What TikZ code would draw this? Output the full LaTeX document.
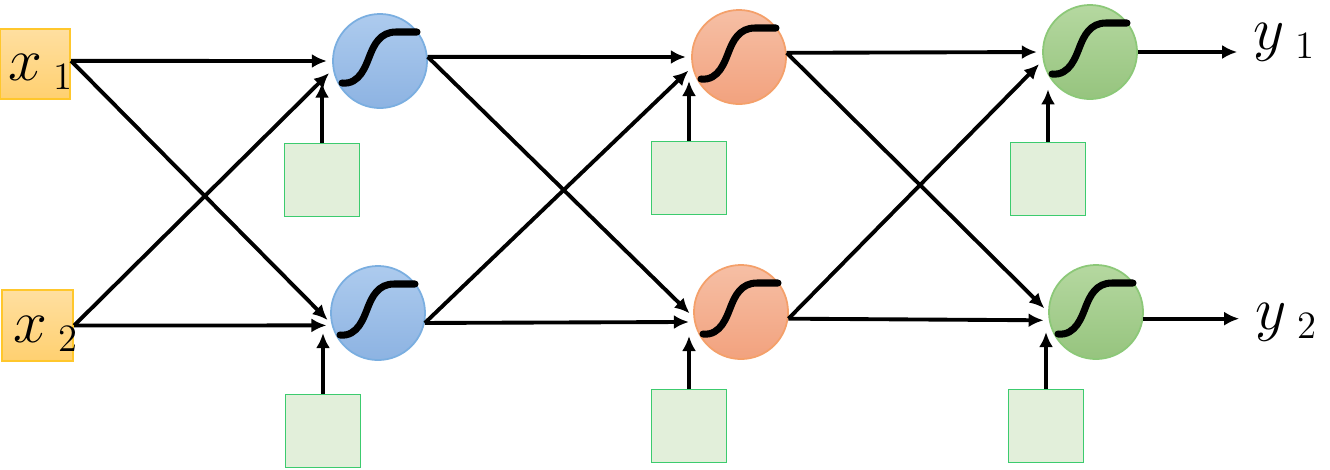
\documentclass[tikz,border=0pt]{standalone}
\usetikzlibrary{arrows.meta}
\definecolor{inedge}{HTML}{FFC72C}
\definecolor{intop}{HTML}{FFDFA0}
\definecolor{inbot}{HTML}{FFD070}
\definecolor{blueedge}{HTML}{7AAEE0}
\definecolor{bluetop}{HTML}{ADCBEE}
\definecolor{bluebot}{HTML}{8DB3E2}
\definecolor{orangeedge}{HTML}{F4A06A}
\definecolor{orangetop}{HTML}{F6BFA5}
\definecolor{orangebot}{HTML}{F2A27E}
\definecolor{greenedge}{HTML}{8CC878}
\definecolor{greentop}{HTML}{B5D8A0}
\definecolor{greenbot}{HTML}{96C47E}
\definecolor{biasedge}{HTML}{3CCB6E}
\definecolor{biasfill}{HTML}{E2EFDA}
\newcommand\lab[2]{$#1$\hspace{3pt}\raisebox{-2.6pt}{\fontsize{11}{13}\selectfont #2}}
\begin{document}
\begin{tikzpicture}[x=0.01cm,y=-0.01cm,
    inbox/.style={draw=inedge,line width=0.6pt,top color=intop,bottom color=inbot,minimum size=0.7cm,inner sep=0pt},
    neuron/.style={circle,draw=#1edge,top color=#1top,bottom color=#1bot,line width=0.5pt,minimum size=0.94cm,inner sep=0pt},
    bias/.style={draw=biasedge,fill=biasfill,line width=0.5pt,minimum width=0.75cm,minimum height=0.73cm,inner sep=0pt},
    txt/.style={anchor=base west,inner sep=0pt,font=\fontsize{16}{19}\selectfont},
    arr/.style={line width=1.1pt,-{Latex[length=1.5mm,width=1.4mm]},shorten >=1.5pt},
    sigm/.pic={\draw[line width=2pt,line cap=round] (-38,22) .. controls (-20,24) and (-14,4) .. (-10,-6) .. controls (-6,-16) and (0,-29) .. (16,-29) -- (37,-29);}]
    \useasboundingbox (0,0) rectangle (1330,469);
    % inputs
    \node[inbox] (x1) at (35,64) {};
    \node[inbox,minimum size=0.71cm] (x2) at (37.5,325.5) {};
    \node[txt] (t1) at (8,80) {\lab{x}{1}};
    \node[txt] (t2) at (13,342) {\lab{x}{2}};
    % neurons
    \node[neuron=blue] (h11) at (380,61) {};
    \node[neuron=blue] (h12) at (378,313) {};
    \node[neuron=orange] (h21) at (739,57) {};
    \node[neuron=orange] (h22) at (741,312) {};
    \node[neuron=green] (o1) at (1090,52) {};
    \node[neuron=green] (o2) at (1096,312) {};
    \pic at (h11) {sigm};
    \pic at (h12) {sigm};
    \pic at (h21) {sigm};
    \pic at (h22) {sigm};
    \pic at (o1) {sigm};
    \pic at (o2) {sigm};
    % biases
    \node[bias] (b11) at (322,180) {};
    \node[bias] (b12) at (323,431) {};
    \node[bias] (b21) at (689,178) {};
    \node[bias] (b22) at (689,426) {};
    \node[bias] (b31) at (1048,179) {};
    \node[bias] (b32) at (1046,426) {};
    % outputs
    \node[txt] (y1) at (1253,49) {\lab{y}{1}};
    \node[txt] (y2) at (1255,329) {\lab{y}{2}};
    % first layer
    \draw[arr] (x1.5) -- (h11.west);
    \draw[arr] (x1.5) -- (h12.193);
    \draw[arr] (x2.east) -- (h11.190);
    \draw[arr] (x2.east) -- (h12.195);
    \draw[arr] (b11.north) -- (b11.north |- h11.200);
    \draw[arr] (b12.north) -- (b12.north |- h12.198);
    % second layer
    \draw[arr] (h11.5) -- (h21.west);
    \draw[arr] (h11.5) -- (h22.186);
    \draw[arr] (h12.-12) -- (h21.192);
    \draw[arr] (h12.-12) -- (h22.192);
    \draw[arr] (b21.north) -- (b21.north |- h21.203);
    \draw[arr] (b22.north) -- (b22.north |- h22.203);
    % third layer
    \draw[arr] (h21.5) -- (o1.west);
    \draw[arr] (h21.5) -- (o2.180);
    \draw[arr] (h22.-8) -- (o1.190);
    \draw[arr] (h22.-8) -- (o2.190);
    \draw[arr] (b31.north) -- (b31.north |- o1.222);
    \draw[arr] (b32.north) -- (b32.north |- o2.198);
    \draw[arr,shorten >=4.5pt] (o1.east) -- (o1.east -| y1.west);
    \draw[arr,shorten >=4.5pt] (o2.-8) -- (o2.-8 -| y2.west);
\end{tikzpicture}
\end{document}
